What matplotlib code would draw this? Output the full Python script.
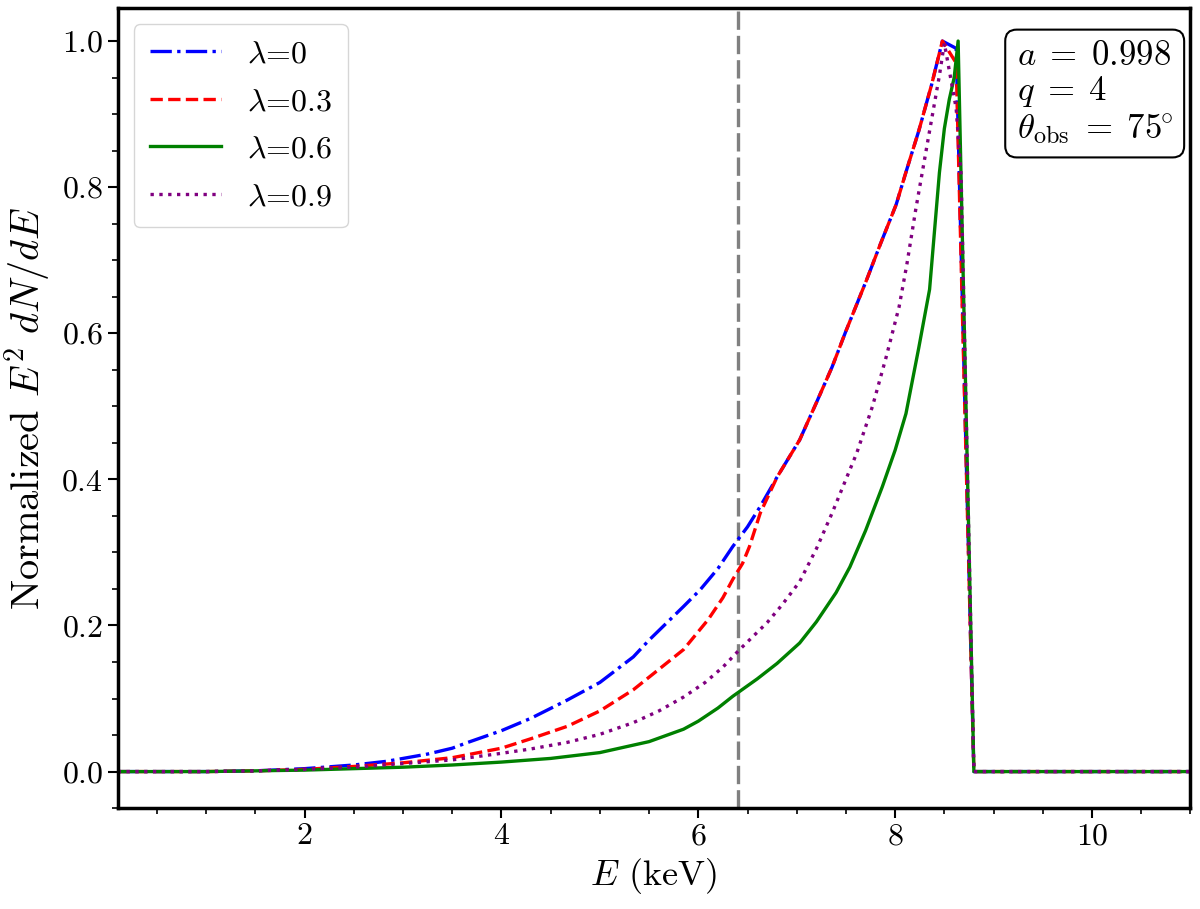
import matplotlib
matplotlib.use("Agg")
import matplotlib.pyplot as plt
from matplotlib.ticker import MultipleLocator

plt.rcParams['font.family'] = 'serif'
plt.rcParams['font.serif'] = ['cmr10']
plt.rcParams['mathtext.fontset'] = 'cm'
plt.rcParams['axes.unicode_minus'] = False
plt.rcParams['axes.formatter.use_mathtext'] = True

# Line energy marker (keV)
line_energy = 6.4

# lambda = 0
E_0 = [0.1, 1.0, 1.5, 2.0, 2.5, 2.83, 3.0, 3.25, 3.5, 3.66, 4.0, 4.3, 4.67,
       5.0, 5.34, 5.5, 5.85, 6.02, 6.2, 6.35, 6.5, 6.63, 6.8, 7.03, 7.2,
       7.36, 7.5, 7.71, 7.85, 8.01, 8.12, 8.24, 8.37, 8.48, 8.62, 8.8, 11.0]
F_0 = [0, 0, 0.001, 0.004, 0.009, 0.014, 0.018, 0.024, 0.032, 0.04, 0.056,
       0.073, 0.098, 0.122, 0.157, 0.18, 0.226, 0.249, 0.278, 0.308, 0.335,
       0.363, 0.403, 0.454, 0.505, 0.554, 0.603, 0.673, 0.722, 0.776, 0.825,
       0.877, 0.94, 1.0, 0.99, 0, 0]

# lambda = 0.3
E_3 = [0.1, 1.0, 1.5, 2.0, 2.5, 3.0, 3.5, 4.0, 4.3, 4.67, 5.0, 5.34, 5.6,
       5.85, 6.1, 6.25, 6.35, 6.45, 6.52, 6.63, 6.8, 7.03, 7.2, 7.36, 7.5,
       7.71, 7.85, 8.01, 8.12, 8.24, 8.37, 8.48, 8.62, 8.8, 11.0]
F_3 = [0, 0, 0.001, 0.003, 0.007, 0.012, 0.019, 0.032, 0.045, 0.062, 0.083,
       0.112, 0.14, 0.167, 0.208, 0.238, 0.263, 0.285, 0.308, 0.354, 0.403,
       0.454, 0.505, 0.554, 0.603, 0.673, 0.722, 0.776, 0.825, 0.877, 0.94, 1.0,
       0.97, 0, 0]

# lambda = 0.6
E_6 = [0.1, 1.0, 1.5, 2.0, 2.5, 3.0, 3.5, 4.0, 4.5, 5.0, 5.5, 5.85, 6.0,
       6.2, 6.35, 6.6, 6.8, 7.03, 7.2, 7.4, 7.54, 7.7, 7.87, 8.0, 8.11, 8.24,
       8.35, 8.45, 8.5, 8.55, 8.6, 8.64, 8.8, 11.0]
F_6 = [0, 0, 0.001, 0.002, 0.004, 0.006, 0.009, 0.013, 0.018, 0.026, 0.041,
       0.058, 0.069, 0.087, 0.103, 0.127, 0.148, 0.176, 0.205, 0.245, 0.28,
       0.33, 0.39, 0.44, 0.49, 0.58, 0.66, 0.82, 0.88, 0.92, 0.95, 1.0, 0, 0]

# lambda = 0.9
E_9 = [0.1, 1.0, 1.5, 2.0, 2.5, 3.0, 3.5, 4.0, 4.3, 4.67, 5.0, 5.34, 5.6,
       5.85, 6.07, 6.25, 6.42, 6.70, 6.85, 7.03, 7.2, 7.36, 7.5, 7.61, 7.77,
       7.91, 8.04, 8.12, 8.21, 8.35, 8.45, 8.50, 8.62, 8.67, 8.8, 11.0]
F_9 = [0, 0, 0.001, 0.003, 0.006, 0.011, 0.016, 0.025, 0.031, 0.04, 0.051,
       0.067, 0.083, 0.102, 0.122, 0.143, 0.167, 0.204, 0.228, 0.26, 0.305,
       0.354, 0.4, 0.436, 0.5, 0.568, 0.636, 0.695, 0.77, 0.877, 0.953, 0.997,
       0.908, 0.817, 0, 0]

fig = plt.figure(figsize=(12, 9.09), dpi=100)
ax = fig.add_axes([0.098, 0.111, 0.894, 0.880])

lw = 2.4
ax.axvline(line_energy, color='gray', ls='--', lw=2.4, dashes=(5.5, 1.8))
ax.plot(E_0, F_0, color='blue', ls='-.', lw=lw, label=r'$\lambda$=0')
ax.plot(E_3, F_3, color='red', ls='--', lw=lw, label=r'$\lambda$=0.3')
ax.plot(E_6, F_6, color='green', ls='-', lw=lw, label=r'$\lambda$=0.6')
ax.plot(E_9, F_9, color='purple', ls=':', lw=lw, label=r'$\lambda$=0.9')

ax.set_xlim(0.1, 11)
ax.set_ylim(-0.05, 1.045)
ax.xaxis.set_major_locator(MultipleLocator(2))
ax.xaxis.set_minor_locator(MultipleLocator(0.5))
ax.yaxis.set_major_locator(MultipleLocator(0.2))
ax.yaxis.set_minor_locator(MultipleLocator(0.05))
ax.tick_params(which='major', length=7, width=1.5, labelsize=23)
ax.tick_params(which='minor', length=4, width=1.2)
for s in ax.spines.values():
    s.set_linewidth(2.5)

ax.set_xlabel(r'$E$ (keV)', fontsize=26, labelpad=4)
ax.set_ylabel(r'Normalized $E^2\ dN/dE$', fontsize=29, labelpad=6)

ax.legend(loc='upper left', fontsize=23, handlelength=2.25,
          borderpad=0.5, labelspacing=0.6, borderaxespad=0.5)

ax.text(0.9835, 0.96,
        r'$a\;=\;0.998$' + '\n' + r'$q\;=\;4$' + '\n'
        + r'$\theta_{\rm obs}\;=\;75^{\!\!\circ}$',
        transform=ax.transAxes, ha='right', va='top', fontsize=25,
        multialignment='left', linespacing=1.08,
        bbox=dict(boxstyle='round,pad=0.33', fc='white', ec='black', lw=1.5))

fig.savefig('out.png', dpi=100)
